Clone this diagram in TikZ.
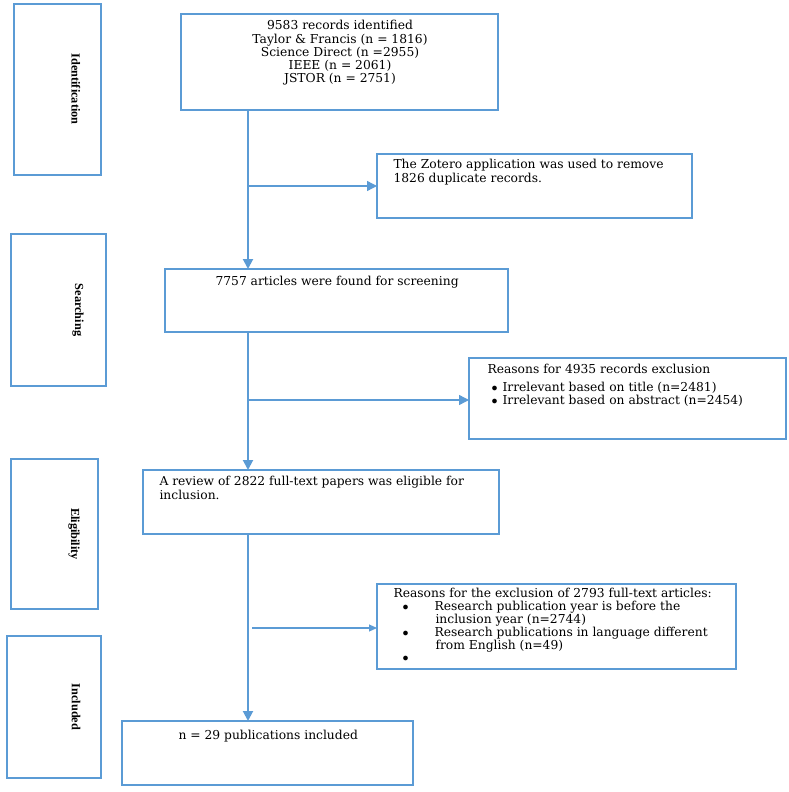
\documentclass[tikz,border=0pt]{standalone}
\usepackage{fontspec}
\setmainfont{DejaVu Serif}
\newfontfamily\lab{Liberation Serif}
\usetikzlibrary{arrows.meta}
\definecolor{bl}{RGB}{91,155,213}
\begin{document}
\begin{tikzpicture}[x=1pt,y=-1pt,
  box/.style={draw=bl,line width=1.5pt,inner sep=0pt},
  ln/.style={draw=bl,line width=2pt},
  arr/.style={ln,-{Triangle[length=10pt,width=10pt]}},
  lbl/.style={rotate=-90,font=\lab\bfseries\fontsize{12.3}{14}\selectfont},
  txt/.style={font=\fontsize{12.3}{13.2}\selectfont,align=left,anchor=north west}]
\useasboundingbox (0,0) rectangle (789,792);
\draw[box] (14,4) rectangle (101,175); \node[lbl] (l1) at (76,89) {Identification};
\draw[box] (11,234) rectangle (106,386); \node[lbl] (l2) at (78,310) {Searching};
\draw[box] (11,459) rectangle (98,609); \node[lbl] (l3) at (74,534) {Eligibility};
\draw[box] (7,636) rectangle (101,778); \node[lbl] (l4) at (76,707) {Included};
\draw[box] (181,14) rectangle (498,110);
\node[font=\fontsize{12.3}{13.2}\selectfont,align=center,anchor=north] (t1) at (340,17)
 {9583 records identified\\Taylor \& Francis (n = 1816)\\Science Direct (n =2955)\\IEEE (n = 2061)\\JSTOR (n = 2751)};
\draw[box] (377,154) rectangle (692,218);
\node[txt] (t2) at (390,156) {The Zotero application was used to remove\\1826 duplicate records.};
\draw[box] (165,269) rectangle (508,332);
\node[txt] (t3) at (212,273) {7757 articles were found for screening};
\draw[box] (469,358) rectangle (786,439);
\node[txt] (t4) at (484,361) {Reasons for 4935 records exclusion\\[4pt]
 \hspace*{4pt}$\bullet$\hspace{5pt}Irrelevant based on title (n=2481)\\
 \hspace*{4pt}$\bullet$\hspace{5pt}Irrelevant based on abstract (n=2454)};
\draw[box] (143,470) rectangle (499,534);
\node[txt] (t5) at (156,473) {A review of 2822 full-text papers was eligible for\\inclusion.};
\draw[box] (377,584) rectangle (736,669);
\node[txt,font=\fontsize{12.3}{12.8}\selectfont] (t6) at (390,585) {Reasons for the exclusion of 2793 full-text articles:\\
 \hspace*{9pt}$\bullet$\hspace{26pt}Research publication year is before the\\
 \hspace*{42pt}inclusion year (n=2744)\\
 \hspace*{9pt}$\bullet$\hspace{26pt}Research publications in language different\\
 \hspace*{42pt}from English (n=49)\\
 \hspace*{9pt}$\bullet$};
\draw[box] (122,721) rectangle (413,785);
\node[txt] (t7) at (175,727) {n = 29 publications included};
\coordinate (a0) at (248,110); \coordinate (a1) at (248,269);
\coordinate (b0) at (248,332); \coordinate (b1) at (248,470);
\coordinate (c0) at (248,534); \coordinate (c1) at (248,721);
\coordinate (s1) at (248,186); \coordinate (e1) at (377,186);
\coordinate (s2) at (248,400); \coordinate (e2) at (469,400);
\coordinate (s3) at (252,628); \coordinate (e3) at (377,628);
\draw[arr] (a0) -- (a1);
\draw[arr] (b0) -- (b1);
\draw[arr] (c0) -- (c1);
\draw[arr,line width=1.4pt] (s1) -- (e1);
\draw[arr,line width=1.4pt] (s2) -- (e2);
\draw[arr,line width=1.1pt,-{Triangle[length=8pt,width=7pt]}] (s3) -- (e3);
\end{tikzpicture}
\end{document}
